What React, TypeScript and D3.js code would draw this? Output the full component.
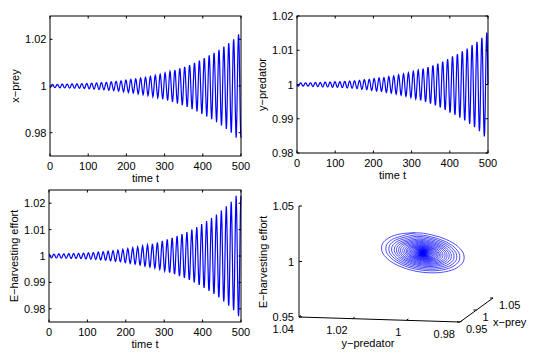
import React from "react";
import * as d3 from "d3";

const W = 533;
const H = 357;
const T_END = 500;

// amplitude of each oscillation cycle (deviation from 1)
const preyAmp = [0.0007, 0.0007, 0.0008, 0.0008, 0.0009, 0.0009, 0.001, 0.0011, 0.0012, 0.0013, 0.0015, 0.0016, 0.0018, 0.002, 0.0022, 0.0025, 0.0028, 0.003, 0.0034, 0.0037, 0.0041, 0.0046, 0.005, 0.0056, 0.0062, 0.0068, 0.0075, 0.0082, 0.009, 0.0099, 0.0109, 0.012, 0.0131, 0.0142, 0.0155, 0.0169, 0.0184, 0.02, 0.0222];
const predatorAmp = [0.0005, 0.0005, 0.0005, 0.0006, 0.0006, 0.0007, 0.0007, 0.0008, 0.0008, 0.0009, 0.001, 0.0011, 0.0012, 0.0014, 0.0015, 0.0017, 0.0019, 0.002, 0.0023, 0.0025, 0.0028, 0.0031, 0.0034, 0.0038, 0.0042, 0.0046, 0.0051, 0.0056, 0.0061, 0.0067, 0.0074, 0.0082, 0.0089, 0.0097, 0.0105, 0.0115, 0.0125, 0.0136, 0.0152];
const effortAmp = [0.0007, 0.0007, 0.0008, 0.0008, 0.0009, 0.0009, 0.001, 0.0011, 0.0012, 0.0013, 0.0015, 0.0016, 0.0018, 0.002, 0.0022, 0.0025, 0.0028, 0.0031, 0.0034, 0.0038, 0.0042, 0.0046, 0.0051, 0.0057, 0.0063, 0.0069, 0.0076, 0.0083, 0.0091, 0.01, 0.011, 0.0121, 0.0132, 0.0144, 0.0157, 0.0172, 0.0188, 0.0205, 0.0228];

// shape of one cycle (16 samples) for each variable, i.e. its phase
const preyShape = [-1, -0.924, -0.707, -0.383, 0, 0.383, 0.707, 0.924, 1, 0.924, 0.707, 0.383, 0, -0.383, -0.707, -0.924];
const predatorShape = [0, -0.383, -0.707, -0.924, -1, -0.924, -0.707, -0.383, 0, 0.383, 0.707, 0.924, 1, 0.924, 0.707, 0.383];
const effortShape = [1, 0.924, 0.707, 0.383, 0, -0.383, -0.707, -0.924, -1, -0.924, -0.707, -0.383, 0, 0.383, 0.707, 0.924];

const timeTicks = [0, 100, 200, 300, 400, 500];
const preyTicks = [0.98, 1, 1.02];
const predatorTicks = [0.98, 0.99, 1, 1.01, 1.02];
const effortTicks = [0.98, 0.99, 1, 1.01, 1.02];
const predAxisTicks = [1.04, 1.02, 1, 0.98];
const preyAxisTicks = [0.95, 1, 1.05];
const effortAxisTicks = [0.95, 1, 1.05];

const FONT = "'Liberation Sans', Arial, Helvetica, sans-serif";
const BLUE = "#0000ff";

type Pt = { t: number; v: number };

function buildSeries(amp: number[], shape: number[]): Pt[] {
  const n = shape.length;
  const per = T_END / amp.length;
  const pts: Pt[] = [];
  amp.forEach((a, k) => {
    shape.forEach((s, j) => pts.push({ t: (k + j / n) * per, v: 1 + a * s }));
  });
  pts.push({ t: T_END, v: 1 + amp[amp.length - 1] * shape[0] });
  return pts;
}

const prey = buildSeries(preyAmp, preyShape);
const predator = buildSeries(predatorAmp, predatorShape);
const effort = buildSeries(effortAmp, effortShape);

const TimePanel = ({ x0, x1, y0, y1, domain, ticks, data, label }) => {
  const x = d3.scaleLinear().domain([0, T_END]).range([x0, x1]);
  const y = d3.scaleLinear().domain(domain).range([y1, y0]);
  const line = d3.line<Pt>().x((d) => x(d.t)).y((d) => y(d.v));
  const tl = 2.5;
  return (
    <g>
      <path d={line(data)} fill="none" stroke={BLUE} strokeWidth={1.2} />
      <rect x={x0} y={y0} width={x1 - x0} height={y1 - y0} fill="none" stroke="#000" strokeWidth={1} />
      {timeTicks.map((t) => (
        <g key={t}>
          <line x1={x(t)} x2={x(t)} y1={y1} y2={y1 - tl} stroke="#000" />
          <line x1={x(t)} x2={x(t)} y1={y0} y2={y0 + tl} stroke="#000" />
          <text x={x(t)} y={y1 + 14} textAnchor="middle" fontSize={11} fontFamily={FONT}>{t}</text>
        </g>
      ))}
      {ticks.map((v) => (
        <g key={v}>
          <line x1={x0} x2={x0 + tl} y1={y(v)} y2={y(v)} stroke="#000" />
          <line x1={x1} x2={x1 - tl} y1={y(v)} y2={y(v)} stroke="#000" />
          <text x={x0 - 3.5} y={y(v) + 4} textAnchor="end" fontSize={11} fontFamily={FONT}>{String(v)}</text>
        </g>
      ))}
      <text x={(x0 + x1) / 2} y={y1 + 26} textAnchor="middle" fontSize={11} fontFamily={FONT}>time t</text>
      <text transform={`translate(${x0 - 35},${(y0 + y1) / 2}) rotate(-90)`} dy="0.35em" textAnchor="middle" fontSize={11} fontFamily={FONT}>{label}</text>
    </g>
  );
};

const PhasePanel = () => {
  // 3-D box: corner at (predator 1.04, prey 0.95, effort 0.95)
  const ox = 299;
  const oy = 317;
  const sPred = d3.scaleLinear().domain([1.04, 0.98]).range([0, 1]);
  const sPrey = d3.scaleLinear().domain([0.95, 1.05]).range([0, 1]);
  const sEff = d3.scaleLinear().domain([0.95, 1.05]).range([0, 1]);
  const vPred = [161, 5];
  const vPrey = [33, -24];
  const vEff = [0, -111];
  const proj = (px: number, py: number, pe: number): [number, number] => {
    const a = sPred(py), b = sPrey(px), c = sEff(pe);
    return [ox + a * vPred[0] + b * vPrey[0] + c * vEff[0], oy + a * vPred[1] + b * vPrey[1] + c * vEff[1]];
  };
  const pts = prey.map((d, i) => proj(d.v, predator[i].v, effort[i].v));
  const line = d3.line().curve(d3.curveCatmullRom);
  const predEnd = proj(0.95, 0.98, 0.95);
  const preyEnd = proj(1.05, 0.98, 0.95);
  const effEnd = proj(0.95, 1.04, 1.05);
  const fs = 11;
  return (
    <g fontFamily={FONT} fontSize={fs}>
      <path d={line(pts)} fill="none" stroke={BLUE} strokeWidth={0.7} />
      <line x1={ox} y1={oy} x2={effEnd[0]} y2={effEnd[1]} stroke="#000" />
      <line x1={ox} y1={oy} x2={predEnd[0]} y2={predEnd[1]} stroke="#000" />
      <line x1={predEnd[0]} y1={predEnd[1]} x2={preyEnd[0]} y2={preyEnd[1]} stroke="#000" />
      {effortAxisTicks.map((v) => {
        const p = proj(0.95, 1.04, v);
        return (
          <g key={v}>
            <line x1={p[0]} y1={p[1]} x2={p[0] + 3} y2={p[1]} stroke="#000" />
            <text x={p[0] - 5} y={p[1] + 4} textAnchor="end">{String(v)}</text>
          </g>
        );
      })}
      {predAxisTicks.map((v) => {
        const p = proj(0.95, v, 0.95);
        return (
          <g key={v}>
            <line x1={p[0]} y1={p[1]} x2={p[0] + 2} y2={p[1] - 1.5} stroke="#000" />
            <text x={p[0] - 5} y={p[1] + 15.5} textAnchor="end">{String(v)}</text>
          </g>
        );
      })}
      {preyAxisTicks.map((v) => {
        const p = proj(v, 0.98, 0.95);
        return (
          <g key={v}>
            <line x1={p[0]} y1={p[1]} x2={p[0] - 3} y2={p[1]} stroke="#000" />
            <text x={p[0] + 6} y={p[1] + 11} textAnchor="start">{String(v)}</text>
          </g>
        );
      })}
      <text x={368} y={347} textAnchor="middle">y−predator</text>
      <text x={493} y={326} textAnchor="start">x−prey</text>
      <text transform={`translate(263,${262}) rotate(-90)`} dy="0.35em" textAnchor="middle">E−harvesting effort</text>
    </g>
  );
};

export default function App() {
  return (
    <svg width={W} height={H} style={{ position: "absolute", left: 0, top: 0, background: "#fff" }}>
      <TimePanel x0={50} x1={241} y0={16} y1={156} domain={[0.97, 1.03]} ticks={preyTicks} data={prey} label="x−prey" />
      <TimePanel x0={297} x1={488} y0={16} y1={153} domain={[0.98, 1.02]} ticks={predatorTicks} data={predator} label="y−predator" />
      <TimePanel x0={49} x1={241} y0={190} y1={322} domain={[0.975, 1.025]} ticks={effortTicks} data={effort} label="E−harvesting effort" />
      <PhasePanel />
    </svg>
  );
}
